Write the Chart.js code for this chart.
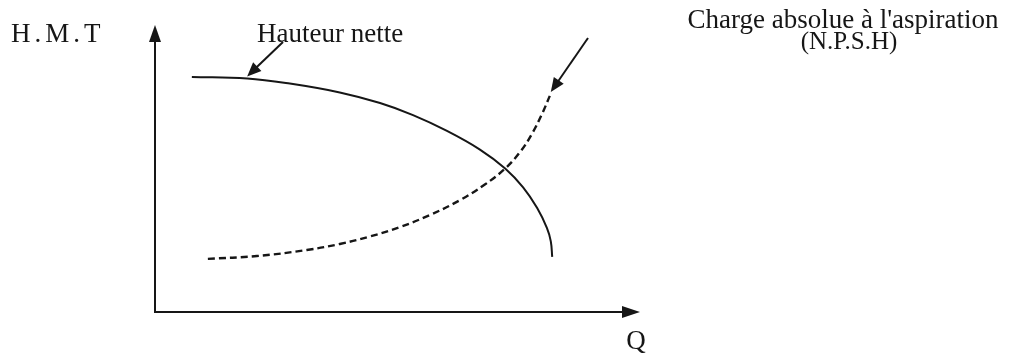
<!DOCTYPE html>
<html lang="fr">
<head>
<meta charset="utf-8">
<title>Courbes H.M.T / N.P.S.H</title>
<script src="https://cdn.jsdelivr.net/npm/chart.js@4.4.1/dist/chart.umd.min.js"></script>
<style>
  html, body { margin: 0; padding: 0; background: #fff; }
  #wrap { width: 1009px; height: 356px; position: relative; }
</style>
</head>
<body>
<div id="wrap"><canvas id="courbes"></canvas></div>
<script>
// ── DONNÉES (unités arbitraires, 0..100 sur chaque axe) ─────────
const qHauteur = [7.6, 19.0, 27.8, 38.1, 46.4, 53.2, 60.2, 67.0, 72.2, 75.9, 78.8, 80.8, 81.6, 81.9];
const hHauteur = [81.9, 81.4, 79.6, 76.5, 72.8, 68.6, 63.1, 56.6, 50.0, 43.4, 36.2, 29.3, 24.7, 19.2];

const qNpsh = [10.9, 21.0, 31.3, 38.1, 44.3, 50.5, 56.7, 62.9, 68.0, 72.2, 75.3, 77.7, 79.8, 81.4];
const hNpsh = [18.5, 19.5, 21.6, 23.7, 26.3, 29.6, 33.8, 39.0, 44.4, 50.0, 55.8, 62.0, 69.0, 75.3];

const axisLabels  = ['H.M.T', 'Q'];
const curveLabels = ['Hauteur nette', "Charge absolue à l'aspiration", '(N.P.S.H)'];

const INK   = '#161616';
const SERIF = '"Liberation Serif", "DejaVu Serif", serif';

// ── HELPERS ─────────────────────────────────────────────────────
const toPoints = (xs, ys) => xs.map((x, i) => ({ x, y: ys[i] }));

function arrowHead(ctx, x1, y1, x2, y2, len, half) {
  // triangle plein, pointe en (x2, y2)
  const a = Math.atan2(y2 - y1, x2 - x1);
  ctx.beginPath();
  ctx.moveTo(x2, y2);
  ctx.lineTo(x2 - len * Math.cos(a) + half * Math.sin(a), y2 - len * Math.sin(a) - half * Math.cos(a));
  ctx.lineTo(x2 - len * Math.cos(a) - half * Math.sin(a), y2 - len * Math.sin(a) + half * Math.cos(a));
  ctx.closePath();
  ctx.fill();
}

function arrow(ctx, x1, y1, x2, y2, len, half) {
  const a = Math.atan2(y2 - y1, x2 - x1);
  ctx.beginPath();
  ctx.moveTo(x1, y1);
  ctx.lineTo(x2 - len * 0.6 * Math.cos(a), y2 - len * 0.6 * Math.sin(a));
  ctx.stroke();
  arrowHead(ctx, x1, y1, x2, y2, len, half);
}

// ── AXES + ÉTIQUETTES (dessinés autour de la zone du graphique) ─
const schemaPlugin = {
  id: 'schema',
  afterDraw(chart) {
    const { ctx, chartArea: ca, scales } = chart;
    const x = scales.x, y = scales.y;
    ctx.save();
    ctx.strokeStyle = INK;
    ctx.fillStyle   = INK;
    ctx.setLineDash([]);

    // axes
    ctx.lineWidth = 2;
    ctx.beginPath();
    ctx.moveTo(ca.left, ca.top + 10);
    ctx.lineTo(ca.left, ca.bottom);
    ctx.lineTo(ca.right - 10, ca.bottom);
    ctx.stroke();
    arrowHead(ctx, ca.left, ca.bottom, ca.left, ca.top, 17, 6);
    arrowHead(ctx, ca.left, ca.bottom, ca.right, ca.bottom, 18, 6);

    // textes
    ctx.font = '27px ' + SERIF;
    ctx.textBaseline = 'alphabetic';
    ctx.textAlign = 'left';
    ctx.letterSpacing = '4px';
    ctx.fillText(axisLabels[0], 11, 42);
    ctx.letterSpacing = '0px';
    ctx.fillText(curveLabels[0], 257, 42);
    ctx.textAlign = 'center';
    ctx.fillText(axisLabels[1], ca.right - 4, 349);
    ctx.fillText(curveLabels[1], 843, 28);
    ctx.font = '25px ' + SERIF;
    ctx.fillText(curveLabels[2], 849, 49);

    // flèches vers les courbes
    ctx.lineWidth = 2;
    const tipH = { x: x.getPixelForValue(qHauteur[1]), y: y.getPixelForValue(hHauteur[1]) - 2 };
    arrow(ctx, 283, 42, tipH.x, tipH.y, 14, 6);
    const n = qNpsh.length - 1;
    const tipN = { x: x.getPixelForValue(qNpsh[n]) + 1, y: y.getPixelForValue(hNpsh[n]) - 4 };
    arrow(ctx, 588, 38, tipN.x, tipN.y, 14, 6);

    ctx.restore();
  }
};

// ── GRAPHIQUE ───────────────────────────────────────────────────
new Chart(document.getElementById('courbes'), {
  type: 'scatter',
  data: {
    datasets: [
      {
        label: curveLabels[0],
        data: toPoints(qHauteur, hHauteur),
        showLine: true,
        borderColor: INK,
        borderWidth: 2,
        pointRadius: 0,
        tension: 0.4,
        clip: false,
      },
      {
        label: curveLabels[2],
        data: toPoints(qNpsh, hNpsh),
        showLine: true,
        borderColor: INK,
        borderWidth: 2.4,
        borderDash: [7, 4],
        pointRadius: 0,
        tension: 0.4,
        clip: false,
      },
    ],
  },
  options: {
    responsive: true,
    maintainAspectRatio: false,
    animation: false,
    layout: { padding: { left: 155, top: 25, right: 369, bottom: 44 } },
    scales: {
      x: { type: 'linear', min: 0, max: 100, display: false },
      y: { type: 'linear', min: 0, max: 100, display: false },
    },
    plugins: {
      legend:  { display: false },
      tooltip: { enabled: false },
    },
  },
  plugins: [schemaPlugin],
});
</script>
</body>
</html>
